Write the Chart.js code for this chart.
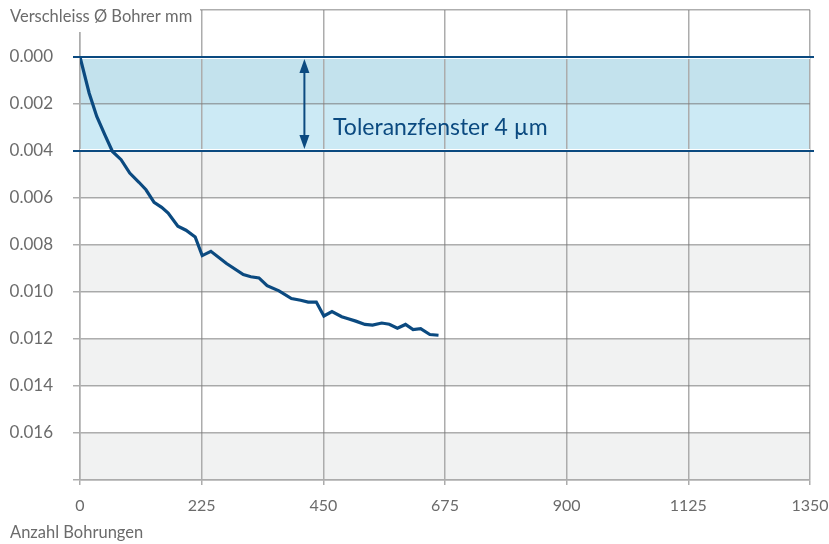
<!DOCTYPE html>
<html>
<head>
<meta charset="utf-8">
<script src="https://cdn.jsdelivr.net/npm/chart.js@4.4.1/dist/chart.umd.min.js"></script>
<style>
  html, body { margin: 0; padding: 0; background: #fff; }
  #wrap { width: 829px; height: 544px; position: relative; }
</style>
</head>
<body>
<div id="wrap"><canvas id="grafica"></canvas></div>
<script>
// Anzahl Bohrungen
const bohrungen = [0, 17, 31, 46, 60, 76, 92, 109, 122, 137, 151, 163, 181, 196, 213, 226, 242, 271, 302, 316, 331, 346, 368, 391, 408, 422, 437, 451, 466, 484, 496, 510, 527, 541, 558, 572, 587, 602, 616, 630, 647, 663];
// Verschleiss in mm
const verschleiss = [0, 0.00154, 0.00253, 0.00331, 0.00402, 0.00437, 0.00494, 0.00533, 0.00565, 0.00619, 0.0064, 0.00664, 0.0072, 0.00737, 0.00766, 0.00845, 0.00827, 0.00879, 0.00926, 0.00935, 0.0094, 0.00973, 0.00995, 0.01028, 0.01035, 0.01043, 0.01043, 0.01102, 0.01083, 0.01105, 0.01114, 0.01124, 0.01138, 0.01141, 0.01132, 0.01137, 0.01154, 0.01138, 0.0116, 0.01156, 0.01181, 0.01184];
const xTicks = [0, 225, 450, 675, 900, 1125, 1350];
const yTicks = [-0.002, 0, 0.002, 0.004, 0.006, 0.008, 0.010, 0.012, 0.014, 0.016, 0.018];
const yLabels = ['', '0.000', '0.002', '0.004', '0.006', '0.008', '0.010', '0.012', '0.014', '0.016', ''];
const grauBaender = [[0, 0.002], [0.004, 0.006], [0.008, 0.010], [0.012, 0.014], [0.016, 0.018]];
const toleranz = [0, 0.004];
const toleranzText = 'Toleranzfenster 4 µm';
const yTitel = 'Verschleiss Ø Bohrer mm';
const xTitel = 'Anzahl Bohrungen';

const blau = '#0b4a80';
const grau = '#6b6b6b';
const schrift = 'Lato, "Open Sans", sans-serif';

const hintergrund = {
    id: 'hintergrund',
    beforeDraw(chart) {
        const { ctx, chartArea: a, scales: { y } } = chart;
        ctx.save();
        ctx.fillStyle = '#f1f2f2';
        grauBaender.forEach(b => {
            const y1 = y.getPixelForValue(b[0]);
            const y2 = y.getPixelForValue(b[1]);
            ctx.fillRect(a.left, y1, a.right - a.left, y2 - y1);
        });
        const t1 = y.getPixelForValue(toleranz[0]);
        const t2 = y.getPixelForValue(toleranz[1]);
        ctx.fillStyle = 'rgba(120, 200, 230, 0.38)';
        ctx.fillRect(a.left, t1, a.right - a.left, t2 - t1);
        ctx.restore();
    },
    beforeDatasetsDraw(chart) {
        const { ctx, chartArea: a, scales: { x, y } } = chart;
        const t1 = y.getPixelForValue(toleranz[0]);
        const t2 = y.getPixelForValue(toleranz[1]);
        ctx.save();
        // Toleranzlinien
        ctx.strokeStyle = blau;
        ctx.lineWidth = 2;
        [t1, t2].forEach(p => {
            ctx.beginPath();
            ctx.moveTo(a.left - 7, p);
            ctx.lineTo(a.right + 4, p);
            ctx.stroke();
        });
        ctx.strokeStyle = '#ffffff';
        ctx.lineWidth = 1;
        ctx.beginPath();
        ctx.moveTo(a.left, t1 + 1.5); ctx.lineTo(a.right, t1 + 1.5);
        ctx.moveTo(a.left, t2 - 1.5); ctx.lineTo(a.right, t2 - 1.5);
        ctx.stroke();
        // Pfeil
        const px = x.getPixelForValue(415);
        ctx.strokeStyle = blau;
        ctx.fillStyle = blau;
        ctx.lineWidth = 2;
        ctx.beginPath();
        ctx.moveTo(px, t1 + 8);
        ctx.lineTo(px, t2 - 8);
        ctx.stroke();
        ctx.beginPath();
        ctx.moveTo(px, t1 + 2); ctx.lineTo(px - 5, t1 + 16); ctx.lineTo(px + 5, t1 + 16); ctx.closePath();
        ctx.fill();
        ctx.beginPath();
        ctx.moveTo(px, t2 - 2); ctx.lineTo(px - 5, t2 - 16); ctx.lineTo(px + 5, t2 - 16); ctx.closePath();
        ctx.fill();
        // Text
        ctx.font = '23px ' + schrift;
        ctx.textBaseline = 'middle';
        ctx.textAlign = 'left';
        ctx.fillText(toleranzText, x.getPixelForValue(468), y.getPixelForValue(0.003));
        ctx.restore();
    },
    afterDraw(chart) {
        const { ctx } = chart;
        ctx.save();
        ctx.fillStyle = '#ffffff';
        ctx.fillRect(0, 0, 200, 32);
        ctx.fillStyle = grau;
        ctx.font = '16.5px ' + schrift;
        ctx.textBaseline = 'middle';
        ctx.textAlign = 'left';
        ctx.fillText(yTitel, 10, 17);
        ctx.fillText(xTitel, 10, 533);
        ctx.restore();
    }
};

new Chart(document.getElementById('grafica'), {
    type: 'line',
    data: {
        datasets: [{
            data: bohrungen.map((b, i) => ({ x: b, y: verschleiss[i] })),
            borderColor: blau,
            borderWidth: 3.2,
            pointRadius: 0,
            tension: 0,
            fill: false
        }]
    },
    options: {
        responsive: true,
        maintainAspectRatio: false,
        animation: false,
        layout: { padding: { top: 10, right: 19, left: 0, bottom: 0 } },
        plugins: { legend: { display: false }, tooltip: { enabled: false } },
        scales: {
            x: {
                type: 'linear',
                min: 0,
                max: 1350,
                afterBuildTicks: s => { s.ticks = xTicks.map(v => ({ value: v })); },
                afterFit: s => { s.height = 64; s.paddingLeft = 0; s.paddingRight = 0; },
                ticks: { color: grau, font: { family: schrift, size: 16 }, padding: 11, maxRotation: 0, callback: v => String(v) },
                grid: { color: '#acacac', lineWidth: 1.5, tickLength: 5 },
                border: { color: '#acacac', width: 1.5 }
            },
            y: {
                type: 'linear',
                reverse: true,
                min: -0.002,
                max: 0.018,
                afterBuildTicks: s => { s.ticks = yTicks.map(v => ({ value: v })); },
                afterFit: s => { s.width = 80; s.paddingTop = 0; s.paddingBottom = 0; },
                ticks: {
                    color: grau,
                    font: { family: schrift, size: 17 },
                    padding: 20,
                    callback: (v, i) => yLabels[i]
                },
                grid: { color: 'rgba(120,120,120,0.6)', lineWidth: 1.5, tickLength: 7 },
                border: { color: '#acacac', width: 1.5 }
            }
        }
    },
    plugins: [hintergrund]
});
</script>
</body>
</html>
